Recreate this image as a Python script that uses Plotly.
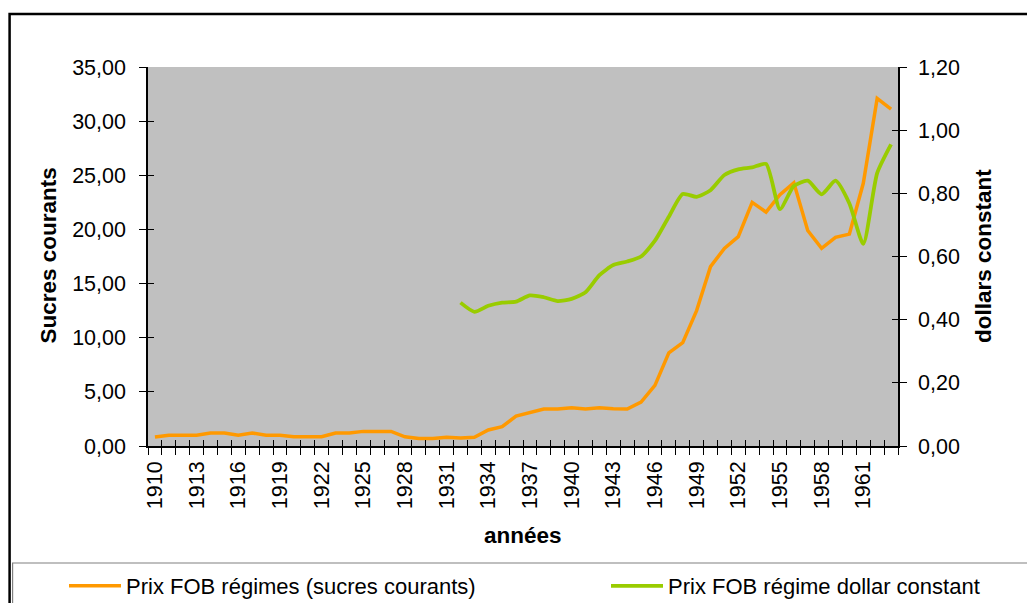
import plotly.graph_objects as go

years = list(range(1910, 1964))

prix_sucres = [0.83, 1.0, 1.0, 1.0, 1.2, 1.2, 1.0, 1.2, 1.0, 1.0,
               0.85, 0.85, 0.85, 1.2, 1.2, 1.35, 1.35, 1.35, 0.85, 0.7,
               0.7, 0.8, 0.74, 0.8, 1.48, 1.78, 2.77, 3.1, 3.42, 3.42,
               3.54, 3.42, 3.54, 3.45, 3.42, 4.06, 5.6, 8.6, 9.54, 12.5,
               16.56, 18.25, 19.33, 22.5, 21.6, 23.2, 24.3, 19.9, 18.25, 19.27,
               19.57, 24.26, 32.1, 31.1]

dollar_years = list(range(1932, 1964))
prix_dollar = [0.454, 0.425, 0.444, 0.454, 0.457, 0.477, 0.471, 0.459, 0.466, 0.487,
               0.541, 0.573, 0.584, 0.600, 0.650, 0.726, 0.798, 0.789, 0.81, 0.858,
               0.876, 0.882, 0.893, 0.75, 0.823, 0.84, 0.797, 0.84, 0.768, 0.64,
               0.864, 0.955]

label_years = list(range(1910, 1964, 3))

# geometry in screenshot pixels; the page body adds an 8px offset
OFF = 8
W, H = 1035, 603
X0, X1, YT, YB = 147.5, 898, 67, 446
PW, PH = X1 - X0, YB - YT

def px(x):
    return (x - X0) / PW

def py(y):
    return (YB - y) / PH

def cx(x):
    return (x - OFF) / W

def cy(y):
    return (H - (y - OFF)) / H

FONT = "Liberation Sans, Arial, sans-serif"
TICK = 21.5

fig = go.Figure()
fig.add_trace(go.Scatter(x=years, y=prix_sucres, mode="lines",
                         name="Prix FOB régimes (sucres courants)",
                         line=dict(color="#FF9900", width=3.5), yaxis="y", legend="legend"))
fig.add_trace(go.Scatter(x=dollar_years, y=prix_dollar, mode="lines",
                         name="Prix FOB régime dollar constant",
                         line=dict(color="#99CC00", width=3.8, shape="spline", smoothing=0.6),
                         yaxis="y2", legend="legend2"))

xr = [1909.5, 1963.5]
leg_common = dict(orientation="h", xref="container", yref="container", xanchor="left",
                  yanchor="middle", y=cy(586), font=dict(size=22, family=FONT),
                  bgcolor="rgba(0,0,0,0)", itemwidth=52)
fig.update_layout(
    width=W, height=H,
    margin=dict(l=X0 - OFF, r=W - (X1 - OFF), t=YT - OFF, b=H - (YB - OFF), pad=0,
                autoexpand=False),
    paper_bgcolor="white", plot_bgcolor="#C0C0C0",
    separators=", ",
    font=dict(family=FONT, size=TICK, color="black"),
    showlegend=True,
    legend=dict(leg_common, x=cx(64)),
    legend2=dict(leg_common, x=cx(606)),
    xaxis=dict(range=xr, tickmode="array", tickvals=label_years,
               ticktext=[str(y) for y in label_years], tickangle=-90,
               ticks="", showgrid=False, zeroline=False, ticklabelstandoff=5,
               showline=True, linecolor="black", linewidth=1.5,
               tickfont=dict(size=TICK),
               minor=dict(tickmode="linear", tick0=1909.5, dtick=1, ticks="outside",
                          ticklen=7, tickcolor="black", tickwidth=1, showgrid=False)),
    xaxis2=dict(range=xr, overlaying="x", showticklabels=False,
                tickmode="linear", tick0=1909.5, dtick=1, ticks="inside", ticklen=6,
                tickcolor="black", showgrid=False, zeroline=False, showline=False),
    yaxis=dict(range=[0, 35], tickmode="linear", tick0=0, dtick=5, tickformat=".2f",
               ticks="outside", ticklen=7, tickcolor="black", showgrid=False,
               zeroline=False, showline=True, linecolor="black", linewidth=1.5,
               ticklabelstandoff=9, tickfont=dict(size=TICK)),
    yaxis2=dict(range=[0, 1.2], tickmode="linear", tick0=0, dtick=0.2, tickformat=".2f",
                overlaying="y", side="right", ticks="outside", ticklen=7,
                tickcolor="black", showgrid=False, zeroline=False, showline=True,
                linecolor="black", linewidth=1.5, ticklabelstandoff=7,
                tickfont=dict(size=TICK)),
    yaxis3=dict(range=[0, 35], overlaying="y", side="left", showticklabels=False,
                tickmode="linear", tick0=0, dtick=5, ticks="inside", ticklen=6,
                tickcolor="black", showgrid=False, zeroline=False, showline=False),
    yaxis4=dict(range=[0, 1.2], overlaying="y", side="right", showticklabels=False,
                tickmode="linear", tick0=0, dtick=0.2, ticks="inside", ticklen=6,
                tickcolor="black", showgrid=False, zeroline=False, showline=False),
)

# invisible traces to display the inside tick halves
fig.add_trace(go.Scatter(x=[xr[0]], y=[0], xaxis="x2", yaxis="y3", mode="markers",
                         marker=dict(opacity=0), showlegend=False, hoverinfo="skip"))
fig.add_trace(go.Scatter(x=[xr[0]], y=[0], xaxis="x2", yaxis="y4", mode="markers",
                         marker=dict(opacity=0), showlegend=False, hoverinfo="skip"))

bold = dict(family=FONT, size=22.5, color="black")
fig.add_annotation(text="<b>Sucres courants</b>", x=px(47), y=py(256), xref="paper", yref="paper",
                   textangle=-90, showarrow=False, font=bold, xanchor="center", yanchor="middle")
fig.add_annotation(text="<b>dollars constant</b>", x=px(983), y=py(256), xref="paper", yref="paper",
                   textangle=-90, showarrow=False, font=bold, xanchor="center", yanchor="middle")
fig.add_annotation(text="<b>années</b>", x=px(523), y=py(535), xref="paper", yref="paper",
                   showarrow=False, font=bold, xanchor="center", yanchor="middle")

# chart area frame and legend frame
fig.add_shape(type="rect", xref="paper", yref="paper", x0=px(9), x1=px(1045), y0=py(14), y1=py(620),
              line=dict(color="black", width=2.5), layer="below")
fig.add_shape(type="rect", xref="paper", yref="paper", x0=px(12), x1=px(1045), y0=py(563), y1=py(620),
              line=dict(color="#808080", width=1.2), layer="below")

fig.write_html("out.html")
